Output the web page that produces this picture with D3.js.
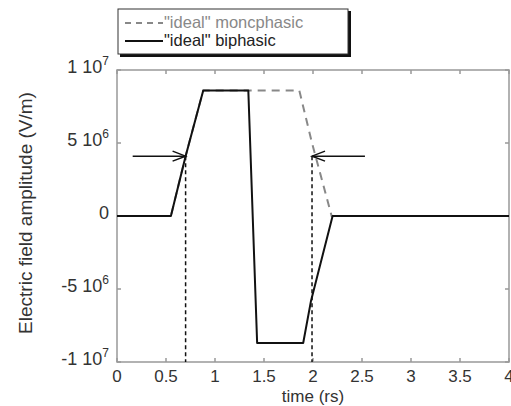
<!DOCTYPE html>
<html>
<head>
<meta charset="utf-8">
<script src="https://cdn.jsdelivr.net/npm/d3@7"></script>
<style>
  body { margin: 0; background: #fff; }
  text { font-family: "Liberation Sans", Arial, sans-serif; }
</style>
</head>
<body>
<svg id="chart"></svg>
<script>
// time (ns) and field (V/m)
const monoTime = [0, 0.55, 0.70, 0.88, 1.86, 1.99, 2.19, 4];
const monoValue = [0, 0, 4.1e6, 8.6e6, 8.6e6, 5.0e6, 0, 0];
const biTime = [0, 0.55, 0.70, 0.88, 1.34, 1.43, 1.90, 1.98, 2.20, 4];
const biValue = [0, 0, 4.1e6, 8.6e6, 8.6e6, -8.7e6, -8.7e6, -5.8e6, 0, 0];
const xTicks = [0, 0.5, 1, 1.5, 2, 2.5, 3, 3.5, 4];
const xTickLabels = ['0', '0.5', '1', '1.5', '2', '2.5', '3', '3.5', '4'];
const yTicks = [1e7, 5e6, 0, -5e6, -1e7];
const yTickLabels = [['1 10', '7'], ['5 10', '6'], ['0', ''], ['-5 10', '6'], ['-1 10', '7']];
const markerTimes = [0.70, 1.99];
const markerLevel = 4.1e6;
const arrowStarts = [0.16, 2.53];
const legendLabels = ['"ideal" moncphasic', '"ideal" biphasic'];

const width = 511, height = 406;
const margin = { top: 70, right: 2, bottom: 44, left: 117 };

const svg = d3.select('#chart')
    .attr('width', width)
    .attr('height', height);

const x = d3.scaleLinear().domain([0, 4]).range([margin.left, width - margin.right]);
const y = d3.scaleLinear().domain([-1e7, 1e7]).range([height - margin.bottom, margin.top]);

const axisColor = '#999';
const textColor = '#333';

// frame
svg.append('rect')
    .attr('x', x(0)).attr('y', y(1e7))
    .attr('width', x(4) - x(0)).attr('height', y(-1e7) - y(1e7))
    .attr('fill', 'none').attr('stroke', axisColor).attr('stroke-width', 1.5);

// inside ticks on all four sides
xTicks.forEach(t => {
    svg.append('line').attr('x1', x(t)).attr('x2', x(t))
        .attr('y1', y(-1e7)).attr('y2', y(-1e7) - 4)
        .attr('stroke', axisColor).attr('stroke-width', 1.5);
    svg.append('line').attr('x1', x(t)).attr('x2', x(t))
        .attr('y1', y(1e7)).attr('y2', y(1e7) + 4)
        .attr('stroke', axisColor).attr('stroke-width', 1.5);
});
yTicks.forEach(v => {
    svg.append('line').attr('x1', x(0)).attr('x2', x(0) + 4)
        .attr('y1', y(v)).attr('y2', y(v))
        .attr('stroke', axisColor).attr('stroke-width', 1.5);
    svg.append('line').attr('x1', x(4)).attr('x2', x(4) - 4)
        .attr('y1', y(v)).attr('y2', y(v))
        .attr('stroke', axisColor).attr('stroke-width', 1.5);
});

// tick labels
svg.selectAll('.xlab')
    .data(xTicks)
    .enter()
    .append('text')
    .attr('x', d => x(d))
    .attr('y', y(-1e7) + 20)
    .attr('text-anchor', 'middle')
    .attr('font-size', 17)
    .attr('fill', textColor)
    .text((d, i) => xTickLabels[i]);

const ylab = svg.selectAll('.ylab')
    .data(yTicks)
    .enter()
    .append('text')
    .attr('x', x(0) - 8)
    .attr('y', d => y(d) + 3)
    .attr('text-anchor', 'end')
    .attr('font-size', 18)
    .attr('fill', textColor);
ylab.append('tspan').text((d, i) => yTickLabels[i][0]);
ylab.append('tspan')
    .attr('font-size', 12)
    .attr('dy', -8)
    .text((d, i) => yTickLabels[i][1]);

// axis titles
svg.append('text')
    .attr('x', x(2))
    .attr('y', height - 4)
    .attr('text-anchor', 'middle')
    .attr('font-size', 17)
    .attr('fill', textColor)
    .text('time (rs)');
svg.append('text')
    .attr('transform', `translate(32, ${y(0) - 3}) rotate(-90)`)
    .attr('text-anchor', 'middle')
    .attr('font-size', 19)
    .attr('fill', textColor)
    .text('Electric field amplitude (V/m)');

// curves
const line = d3.line().x(d => x(d[0])).y(d => y(d[1]));
svg.append('path')
    .datum(monoTime.map((t, i) => [t, monoValue[i]]))
    .attr('d', line)
    .attr('fill', 'none')
    .attr('stroke', '#888')
    .attr('stroke-width', 2)
    .attr('stroke-dasharray', '8,6');
svg.append('path')
    .datum(biTime.map((t, i) => [t, biValue[i]]))
    .attr('d', line)
    .attr('fill', 'none')
    .attr('stroke', '#111')
    .attr('stroke-width', 2)
    .attr('stroke-linejoin', 'round');

// FWHM markers
markerTimes.forEach((t, i) => {
    svg.append('line')
        .attr('x1', x(t)).attr('x2', x(t))
        .attr('y1', y(markerLevel)).attr('y2', y(-1e7))
        .attr('stroke', '#111').attr('stroke-width', 1.5)
        .attr('stroke-dasharray', '4,3');
    const s = arrowStarts[i];
    const dir = t > s ? 1 : -1;
    svg.append('line')
        .attr('x1', x(s)).attr('x2', x(t))
        .attr('y1', y(markerLevel)).attr('y2', y(markerLevel))
        .attr('stroke', '#111').attr('stroke-width', 1.5);
    svg.append('path')
        .attr('d', `M${x(t) - dir * 13},${y(markerLevel) - 5} L${x(t)},${y(markerLevel)} L${x(t) - dir * 13},${y(markerLevel) + 5}`)
        .attr('fill', 'none')
        .attr('stroke', '#111').attr('stroke-width', 1.5);
});

// legend
const lg = svg.append('g').attr('transform', 'translate(118, 9)');
lg.append('rect').attr('x', 2).attr('y', 2).attr('width', 231).attr('height', 46).attr('fill', '#111');
lg.append('rect').attr('x', 0).attr('y', 0).attr('width', 230).attr('height', 45)
    .attr('fill', '#fff').attr('stroke', '#333').attr('stroke-width', 1);
lg.append('line').attr('x1', 7).attr('x2', 45).attr('y1', 14).attr('y2', 14)
    .attr('stroke', '#888').attr('stroke-width', 2).attr('stroke-dasharray', '6,5');
lg.append('line').attr('x1', 7).attr('x2', 45).attr('y1', 32).attr('y2', 32)
    .attr('stroke', '#111').attr('stroke-width', 2);
lg.selectAll('.leg')
    .data(legendLabels)
    .enter()
    .append('text')
    .attr('x', 46)
    .attr('y', (d, i) => 19 + i * 18)
    .attr('font-size', 16.5)
    .attr('fill', (d, i) => i === 0 ? '#888' : '#222')
    .text(d => d);
</script>
</body>
</html>
